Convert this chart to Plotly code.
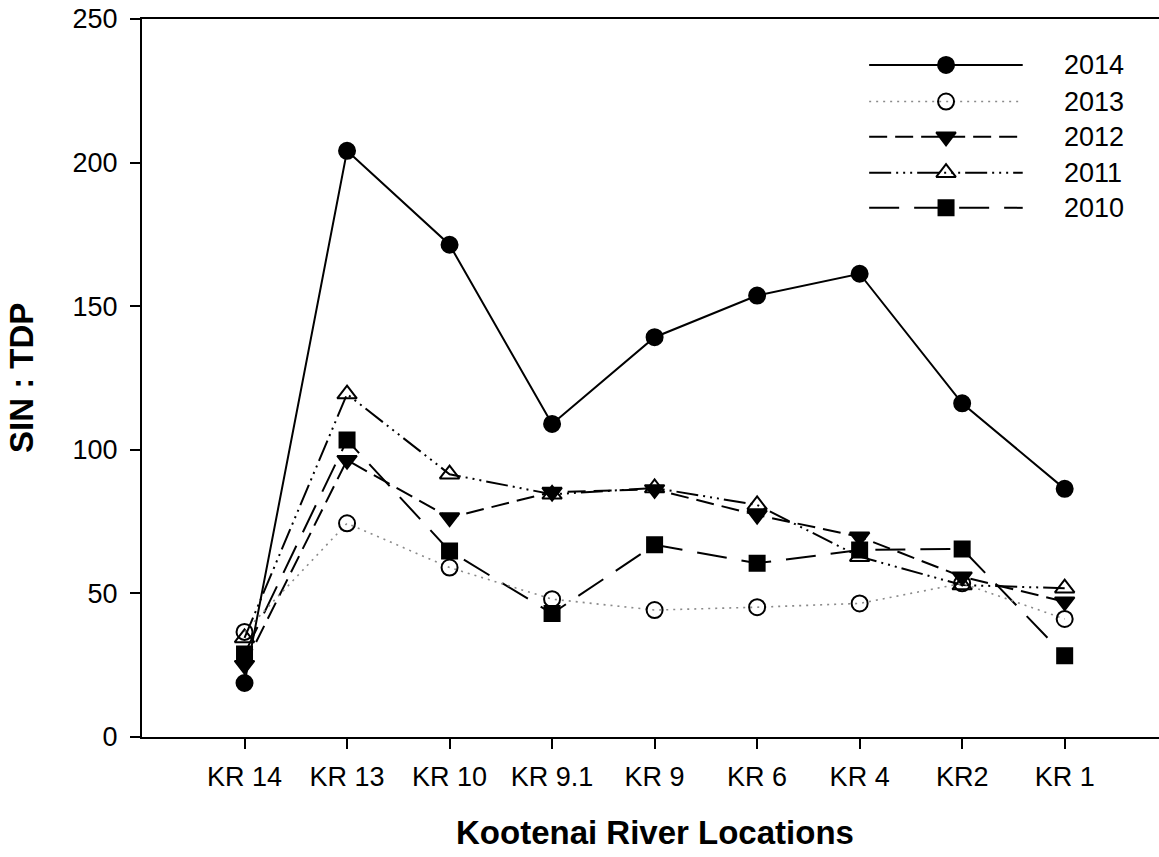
import plotly.graph_objects as go

# Sampling sites along the Kootenai River, upstream to downstream
locations = ["KR 14", "KR 13", "KR 10", "KR 9.1", "KR 9", "KR 6", "KR 4", "KR2", "KR 1"]

# SIN : TDP ratio for each year
sin_tdp_2014 = [18.8, 204.1, 171.4, 109.0, 139.2, 153.7, 161.3, 116.2, 86.4]
sin_tdp_2013 = [36.6, 74.4, 59.0, 48.0, 44.2, 45.2, 46.5, 53.5, 41.1]
sin_tdp_2012 = [25.0, 96.4, 76.4, 85.3, 86.2, 77.3, 69.7, 55.8, 47.1]
sin_tdp_2011 = [34.5, 119.4, 91.5, 84.5, 86.7, 80.8, 62.8, 52.9, 51.8]
sin_tdp_2010 = [28.9, 103.4, 64.8, 43.0, 66.9, 60.5, 65.1, 65.5, 28.3]

years = ["2014", "2013", "2012", "2011", "2010"]
y_ticks = [0, 50, 100, 150, 200, 250]

FONT = "Arial, Liberation Sans, sans-serif"
TICK_SIZE = 27
TITLE_SIZE = 33

styles = {
    "2014": dict(dash="solid", color="black", width=2,
                 symbol="circle", mcolor="black", size=16),
    "2013": dict(dash="2px,5px", color="#8a8a8a", width=1.6,
                 symbol="circle-open", mcolor="black", size=16),
    "2012": dict(dash="18px,8px", color="black", width=2,
                 symbol="triangle-down", mcolor="black", size=17),
    "2011": dict(dash="22px,5px,2px,5px,2px,5px,2px,5px", color="black", width=2,
                 symbol="triangle-up-open", mcolor="black", size=17),
    "2010": dict(dash="30px,15px", color="black", width=2,
                 symbol="square", mcolor="black", size=15),
}
series = {
    "2014": sin_tdp_2014,
    "2013": sin_tdp_2013,
    "2012": sin_tdp_2012,
    "2011": sin_tdp_2011,
    "2010": sin_tdp_2010,
}

fig = go.Figure()

# data lines, drawn bottom key entry first so 2014 sits on top
for yr in reversed(years):
    s = styles[yr]
    fig.add_trace(go.Scatter(
        x=locations, y=series[yr], mode="lines+markers", name=yr,
        line=dict(color=s["color"], width=s["width"], dash=s["dash"]),
        marker=dict(symbol=s["symbol"], size=s["size"], color=s["mcolor"],
                    line=dict(color="black", width=2)),
        showlegend=False, cliponaxis=False,
    ))

# key drawn on an overlay axis spanning the plot area (0..1 in both directions)
key_rows = [0.936, 0.885, 0.836, 0.786, 0.737]
key_x0, key_xm, key_x1 = 0.715, 0.7906, 0.866
for yr, ky in zip(years, key_rows):
    s = styles[yr]
    fig.add_trace(go.Scatter(
        x=[key_x0, key_x1], y=[ky, ky], mode="lines",
        line=dict(color=s["color"], width=s["width"], dash=s["dash"]),
        xaxis="x2", yaxis="y2", showlegend=False, hoverinfo="skip",
    ))
    fig.add_trace(go.Scatter(
        x=[key_xm], y=[ky], mode="markers",
        marker=dict(symbol=s["symbol"], size=s["size"], color=s["mcolor"],
                    line=dict(color="black", width=2)),
        xaxis="x2", yaxis="y2", showlegend=False, hoverinfo="skip",
    ))
    fig.add_annotation(
        x=0.905, y=ky, xref="paper", yref="paper", text=yr, showarrow=False,
        xanchor="left", yanchor="middle",
        font=dict(family=FONT, size=TICK_SIZE, color="black"),
    )

# axis titles
fig.add_annotation(
    x=0.5, y=0, xref="paper", yref="paper", text="<b>Kootenai River Locations</b>",
    showarrow=False, xanchor="center", yanchor="middle", yshift=-95, xshift=4,
    font=dict(family=FONT, size=TITLE_SIZE, color="black"),
)
fig.add_annotation(
    x=0, y=0.5, xref="paper", yref="paper", text="<b>SIN : TDP</b>",
    showarrow=False, xanchor="center", yanchor="middle", xshift=-121, textangle=-90,
    font=dict(family=FONT, size=TITLE_SIZE, color="black"),
)

fig.update_layout(
    width=1159, height=857,
    margin=dict(l=142, r=0, t=19, b=120),
    paper_bgcolor="white", plot_bgcolor="white",
    font=dict(family=FONT, color="black"),
    xaxis=dict(
        type="category", categoryorder="array", categoryarray=locations,
        range=[-1, 8.92], showgrid=False, zeroline=False,
        showline=True, linecolor="black", linewidth=2, mirror=True,
        ticks="outside", ticklen=10, tickwidth=2, tickcolor="black",
        ticklabelstandoff=5,
        tickfont=dict(family=FONT, size=TICK_SIZE, color="black"),
    ),
    yaxis=dict(
        range=[0, 250], tickvals=y_ticks, showgrid=False, zeroline=False,
        showline=True, linecolor="black", linewidth=2,
        ticks="outside", ticklen=10, tickwidth=2, tickcolor="black",
        ticklabelstandoff=7,
        tickfont=dict(family=FONT, size=TICK_SIZE, color="black"),
    ),
    xaxis2=dict(overlaying="x", range=[0, 1], visible=False, fixedrange=True),
    yaxis2=dict(overlaying="y", range=[0, 1], visible=False, fixedrange=True),
)

fig.write_html("out.html")
